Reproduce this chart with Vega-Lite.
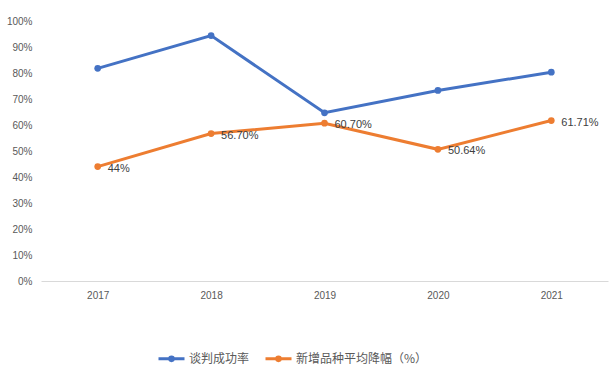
{
  "$schema": "https://vega.github.io/schema/vega-lite/v6.json",
  "width": 567,
  "height": 260,
  "autosize": {"type": "none"},
  "padding": {"left": 41, "top": 21, "right": 2, "bottom": 92},
  "background": "white",
  "config": {
    "view": {"stroke": null},
    "font": "Noto Sans CJK SC",
    "axis": {"labelColor": "#595959", "labelFontSize": 10, "labelFont": "Liberation Sans", "title": null}
  },
  "data": {
    "values": [
      {"year": "2017", "series": "谈判成功率", "value": 81.8, "label": ""},
      {"year": "2018", "series": "谈判成功率", "value": 94.4, "label": ""},
      {"year": "2019", "series": "谈判成功率", "value": 64.7, "label": ""},
      {"year": "2020", "series": "谈判成功率", "value": 73.3, "label": ""},
      {"year": "2021", "series": "谈判成功率", "value": 80.3, "label": ""},
      {"year": "2017", "series": "新增品种平均降幅（%）", "value": 44, "label": "44%"},
      {"year": "2018", "series": "新增品种平均降幅（%）", "value": 56.7, "label": "56.70%"},
      {"year": "2019", "series": "新增品种平均降幅（%）", "value": 60.7, "label": "60.70%"},
      {"year": "2020", "series": "新增品种平均降幅（%）", "value": 50.64, "label": "50.64%"},
      {"year": "2021", "series": "新增品种平均降幅（%）", "value": 61.71, "label": "61.71%"}
    ]
  },
  "encoding": {
    "x": {
      "field": "year", "type": "ordinal",
      "scale": {"type": "point", "padding": 0.5},
      "axis": {"labelAngle": 0, "ticks": false, "domainColor": "#d9d9d9", "domainWidth": 1, "labelPadding": 9}
    },
    "y": {
      "field": "value", "type": "quantitative",
      "scale": {"domain": [0, 100]},
      "axis": {"values": [0,10,20,30,40,50,60,70,80,90,100], "labelExpr": "datum.value + '%'", "grid": false, "domain": false, "ticks": false, "labelPadding": 9}
    }
  },
  "layer": [
    {
      "mark": {"type": "line", "strokeWidth": 3, "point": {"filled": true, "size": 45}},
      "encoding": {
        "color": {
          "field": "series", "type": "nominal",
          "scale": {"domain": ["谈判成功率", "新增品种平均降幅（%）"], "range": ["#4472C4", "#ED7D31"]},
          "legend": {
            "orient": "none", "direction": "horizontal", "legendX": 116, "legendY": 323,
            "title": null, "labelFontSize": 12, "labelColor": "#595959", "labelFont": "Noto Sans CJK SC",
            "symbolType": "M -1 0 L 1 0 M 0.14 0 A 0.14 0.14 0 1 1 -0.14 0 A 0.14 0.14 0 1 1 0.14 0",
            "symbolSize": 676, "symbolStrokeWidth": 3, "columnPadding": 9, "labelOffset": 3
          }
        }
      }
    },
    {
      "mark": {"type": "text", "align": "left", "baseline": "middle", "dx": 10, "dy": 2, "fontSize": 11, "font": "Liberation Sans", "color": "#404040"},
      "encoding": {"text": {"field": "label"}}
    }
  ]
}
